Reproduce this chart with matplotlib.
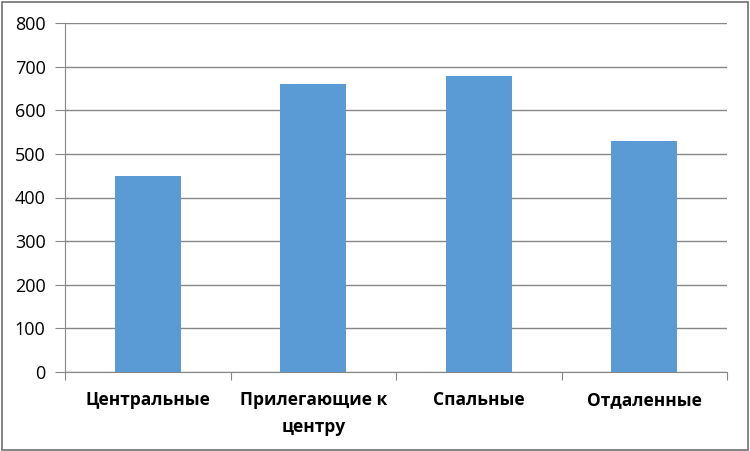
import matplotlib.pyplot as plt
from matplotlib.patches import Rectangle

categories = ['Центральные', 'Прилегающие к\nцентру', 'Спальные', 'Отдаленные']
values = [450, 660, 678, 530]
yticks = [0, 100, 200, 300, 400, 500, 600, 700, 800]

plt.rcParams['font.family'] = ['Open Sans', 'DejaVu Sans']

fig = plt.figure(figsize=(7.5, 4.51), dpi=100)
ax = fig.add_axes([65/750, 1 - 372/451, (727-65)/750, (372-23)/451])

x = range(len(categories))
ax.bar(x, values, width=0.4, color='#5B9BD5', zorder=3)

ax.set_xlim(-0.5, len(categories) - 0.5)
ax.set_ylim(0, 800)
ax.set_yticks(yticks)
ax.set_yticklabels([str(t) for t in yticks], fontsize=13)
ax.yaxis.grid(True, color='#868686', linewidth=1, zorder=0)
ax.tick_params(axis='y', length=7, color='#868686', pad=7)

ax.set_xticks([i - 0.5 for i in range(len(categories) + 1)], minor=False)
ax.set_xticklabels([])
ax.tick_params(axis='x', which='major', length=6, color='#868686', direction='out')
ax.set_xticks(list(x), minor=True)
ax.set_xticklabels(categories, minor=True, fontsize=12.5, fontweight='bold',
                   linespacing=1.6)
ax.tick_params(axis='x', which='minor', length=0, pad=14)

for s in ['top', 'right']:
    ax.spines[s].set_visible(False)
for s in ['left', 'bottom']:
    ax.spines[s].set_color('#868686')

fig.patches.append(Rectangle((0.002, 0.003), 0.995, 0.993, transform=fig.transFigure,
                             fill=False, edgecolor='#707070', linewidth=1.2))

fig.savefig('out.png', dpi=100)
